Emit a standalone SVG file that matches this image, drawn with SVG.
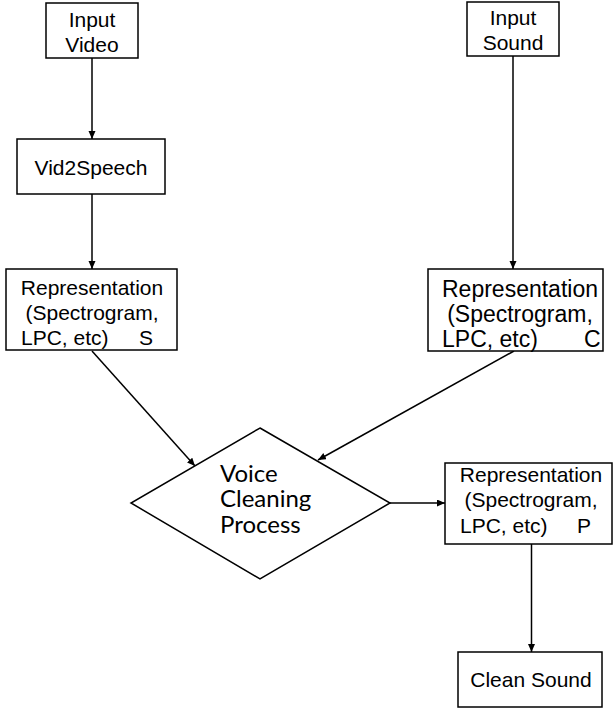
<svg xmlns="http://www.w3.org/2000/svg" width="613" height="708" viewBox="0 0 613 708">
<style>
.box{fill:#fff;stroke:#000;stroke-width:1.5}
.t{font-family:"Liberation Sans",Arial,sans-serif;font-size:21px;fill:#000;text-anchor:middle}
.tb{font-family:"Liberation Sans",Arial,sans-serif;font-size:23px;fill:#000;text-anchor:middle}
.d{font-family:Lato,"Open Sans",sans-serif;font-size:24px;fill:#000}
.c{fill:none;stroke:#000;stroke-width:1.5}
</style>
<defs>
<marker id="ah" markerUnits="userSpaceOnUse" markerWidth="9" markerHeight="8" refX="8" refY="3.5" orient="auto">
<path d="M0,0 L8,3.5 L0,7 z" fill="#000"/>
</marker>
</defs>
<rect width="613" height="708" fill="#fff"/>
<g id="connectors">
<line class="c" x1="92" y1="58" x2="92" y2="139" marker-end="url(#ah)"/>
<line class="c" x1="92" y1="194" x2="92" y2="269" marker-end="url(#ah)"/>
<line class="c" x1="513" y1="56" x2="513" y2="269" marker-end="url(#ah)"/>
<line class="c" x1="92" y1="351" x2="195" y2="466" marker-end="url(#ah)"/>
<line class="c" x1="514" y1="351" x2="318" y2="460" marker-end="url(#ah)"/>
<line class="c" x1="390" y1="503" x2="445" y2="503" marker-end="url(#ah)"/>
<line class="c" x1="531.5" y1="544" x2="531.5" y2="652" marker-end="url(#ah)"/>
</g>
<g id="input-video">
<rect class="box" x="46" y="3" width="92" height="55"/>
<text class="t" x="92" y="27">Input</text>
<text class="t" x="92" y="52">Video</text>
</g>
<g id="vid2speech">
<rect class="box" x="17" y="139" width="148" height="55"/>
<text class="t" x="91" y="175">Vid2Speech</text>
</g>
<g id="input-sound">
<rect class="box" x="467" y="2" width="92" height="54"/>
<text class="t" x="513" y="25">Input</text>
<text class="t" x="513" y="50">Sound</text>
</g>
<g id="rep-s">
<rect class="box" x="6" y="269" width="171" height="81"/>
<text class="t" x="92" y="294.5">Representation</text>
<text class="t" x="92" y="319.5">(Spectrogram,</text>
<text class="t" x="21" y="344.5" style="text-anchor:start">LPC, etc)<tspan x="139">S</tspan></text>
</g>
<g id="rep-c">
<rect class="box" x="428" y="269" width="175" height="82"/>
<text class="tb" x="520" y="296.5">Representation</text>
<text class="tb" x="520" y="322">(Spectrogram,</text>
<text class="tb" x="442" y="347" style="text-anchor:start">LPC, etc)<tspan x="584">C</tspan></text>
</g>
<g id="voice-cleaning">
<polygon class="box" points="260,428 390,503 260,579 131,503"/>
<text class="d" x="220" y="481.5">Voice</text>
<text class="d" x="220" y="507">Cleaning</text>
<text class="d" x="220" y="533">Process</text>
</g>
<g id="rep-p">
<rect class="box" x="445" y="463" width="167" height="81"/>
<text class="t" x="531" y="481.5">Representation</text>
<text class="t" x="531" y="506.5">(Spectrogram,</text>
<text class="t" x="460" y="533" style="text-anchor:start">LPC, etc)<tspan x="577">P</tspan></text>
</g>
<g id="clean-sound">
<rect class="box" x="458" y="652" width="144" height="55"/>
<text class="t" x="531" y="687">Clean Sound</text>
</g>
</svg>
